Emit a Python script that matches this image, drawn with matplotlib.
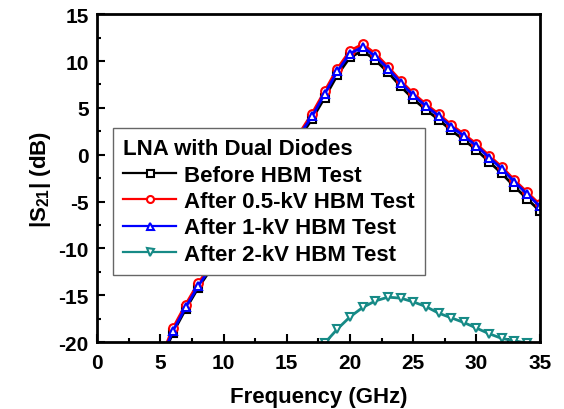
import matplotlib
matplotlib.use("Agg")
import matplotlib.pyplot as plt
from matplotlib.ticker import MultipleLocator

plt.rcParams['font.family'] = ['Liberation Sans', 'DejaVu Sans']
plt.rcParams['font.weight'] = 'bold'
plt.rcParams['axes.unicode_minus'] = False

freq = list(range(5, 36))
s21_1kv = [-22.0, -18.8, -16.3, -14.0, -12.0, -10.0, -8.0, -6.0, -4.0, -2.0,
           0.0, 2.1, 4.1, 6.5, 8.9, 10.8, 11.5, 10.5, 9.2, 7.7,
           6.35, 5.2, 4.15, 3.0, 2.0, 0.95, -0.3, -1.5, -2.9, -4.2, -5.5]
s21_05kv = [-21.8, -18.5, -16.0, -13.7, -11.8, -9.8, -7.8, -5.8, -3.8, -1.8,
            0.2, 2.3, 4.4, 6.8, 9.2, 11.1, 11.8, 10.8, 9.4, 7.9,
            6.55, 5.4, 4.35, 3.2, 2.2, 1.15, -0.1, -1.3, -2.7, -4.0, -5.3]
s21_before = [-22.2, -19.0, -16.5, -14.2, -12.2, -10.2, -8.2, -6.2, -4.2, -2.2,
              -0.2, 1.8, 3.8, 6.1, 8.5, 10.4, 11.1, 10.1, 8.8, 7.3,
              5.95, 4.8, 3.75, 2.6, 1.6, 0.5, -0.75, -2.0, -3.4, -4.7, -6.0]

freq_2kv = list(range(17, 35))
s21_2kv = [-20.6, -20.1, -18.6, -17.3, -16.3, -15.6, -15.2, -15.3, -15.7,
           -16.2, -16.9, -17.4, -17.9, -18.5, -19.1, -19.6, -19.85, -20.1]

fig = plt.figure(figsize=(5.64, 4.10), dpi=100)
ax = fig.add_axes([0.172, 0.163, 0.785, 0.800])

mk = dict(markersize=6.3, markerfacecolor='white', markeredgewidth=1.5, linewidth=2)
ax.plot(freq, s21_before, color='black', marker='s', label='Before HBM Test', **mk)
ax.plot(freq, s21_05kv, color='red', marker='o', label='After 0.5-kV HBM Test', **mk)
ax.plot(freq, s21_1kv, color='#0000ff', marker='^', label='After 1-kV HBM Test', **mk)
ax.plot(freq_2kv, s21_2kv, color='#168a86', marker='v', label='After 2-kV HBM Test', **mk)

ax.set_xlim(0, 35)
ax.set_ylim(-20, 15)
ax.xaxis.set_major_locator(MultipleLocator(5))
ax.xaxis.set_minor_locator(MultipleLocator(2.5))
ax.yaxis.set_major_locator(MultipleLocator(5))
ax.yaxis.set_minor_locator(MultipleLocator(2.5))
ax.tick_params(which='both', direction='in', top=False, right=False, width=1.5)
ax.tick_params(which='major', length=6, labelsize=15)
ax.tick_params(axis='x', which='major', pad=8)
ax.tick_params(axis='y', which='major', pad=6)
ax.tick_params(which='minor', length=3)
for s in ax.spines.values():
    s.set_linewidth(2)
for lbl in ax.get_xticklabels() + ax.get_yticklabels():
    lbl.set_fontweight('bold')

ax.set_xlabel('Frequency (GHz)', fontsize=16, fontweight='bold', labelpad=10)
ax.set_ylabel(r'|S$_{\mathregular{21}}$| (dB)', fontsize=16, fontweight='bold', labelpad=4)

leg = ax.legend(title='LNA with Dual Diodes', loc='upper left',
                bbox_to_anchor=(0.036, 0.652), borderaxespad=0,
                prop={'size': 16, 'weight': 'bold'},
                title_fontproperties={'size': 16, 'weight': 'bold'},
                fancybox=False, framealpha=1, edgecolor='#666666',
                handlelength=2.4, handletextpad=0.35, labelspacing=0.24,
                borderpad=0.45, markerscale=0.8)
leg.get_frame().set_linewidth(1.0)
leg._legend_box.align = 'left'
for h in leg.legend_handles:
    h.set_linewidth(1.6)

fig.savefig('out.png', dpi=100)
